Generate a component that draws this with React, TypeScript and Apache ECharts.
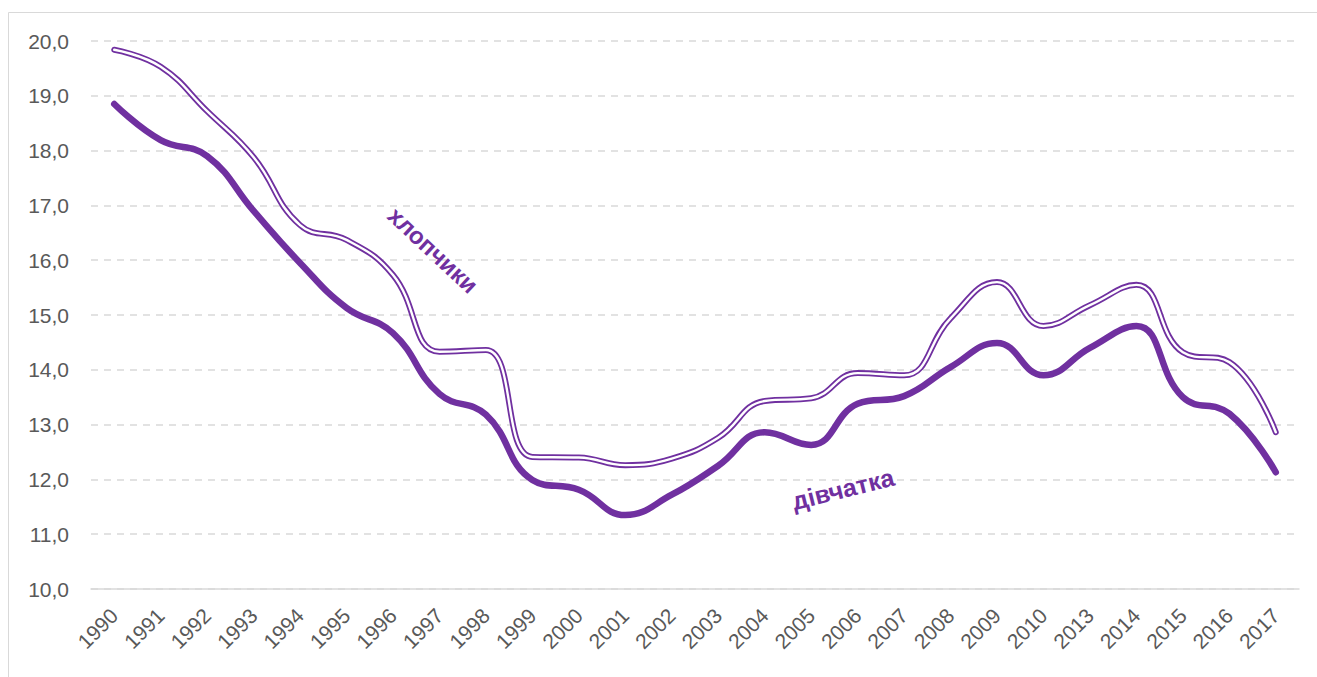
import React, { useEffect, useRef } from "react";
import * as echarts from "echarts";

const categories = [
  "1990", "1991", "1992", "1993", "1994", "1995", "1996", "1997", "1998", "1999",
  "2000", "2001", "2002", "2003", "2004", "2005", "2006", "2007", "2008", "2009",
  "2010", "2013", "2014", "2015", "2016", "2017",
];
const boys = [
  19.84, 19.53, 18.72, 17.88, 16.64, 16.37, 15.73, 14.33, 14.36, 12.41,
  12.4, 12.26, 12.38, 12.76, 13.43, 13.48, 13.94, 13.9, 14.94, 15.6,
  14.8, 15.18, 15.55, 14.32, 14.14, 12.86,
];
const girls = [
  18.85, 18.19, 17.9, 16.9, 15.95, 15.13, 14.67, 13.56, 13.18, 11.99,
  11.81, 11.35, 11.72, 12.25, 12.86, 12.63, 13.38, 13.52, 14.05, 14.49,
  13.9, 14.4, 14.8, 13.5, 13.2, 12.13,
];
const boysLabel = "хлопчики";
const girlsLabel = "дівчатка";

const PURPLE = "#7030A0";
const FONT = "Liberation Sans";

export default function App() {
  const ref = useRef<HTMLDivElement>(null);
  useEffect(() => {
    if (!ref.current) return;
    const chart = echarts.init(ref.current, null, { renderer: "svg" });
    chart.setOption({
      animation: false,
      backgroundColor: "#ffffff",
      grid: { left: 91, right: 18, top: 41, bottom: 88, containLabel: false },
      xAxis: {
        type: "category",
        data: categories,
        boundaryGap: true,
        axisLine: { show: true, lineStyle: { color: "#d9d9d9", width: 1.5 } },
        axisTick: { show: false },
        axisLabel: {
          interval: 0,
          rotate: 45,
          margin: 23,
          fontSize: 21,
          fontFamily: FONT,
          color: "#595959",
        },
      },
      yAxis: {
        type: "value",
        min: 10,
        max: 20,
        interval: 1,
        axisLine: { show: false },
        axisTick: { show: false },
        axisLabel: {
          margin: 22,
          fontSize: 21,
          fontFamily: FONT,
          color: "#595959",
          formatter: (v: number) => v.toFixed(1).replace(".", ","),
        },
        splitLine: {
          show: true,
          lineStyle: { color: "#d9d9d9", width: 1.5, type: [7, 6] },
        },
      },
      series: [
        {
          name: "boys-outer",
          type: "line",
          data: boys,
          smooth: 0.45,
          symbol: "none",
          lineStyle: { color: PURPLE, width: 6, cap: "round", join: "round" },
          z: 2,
        },
        {
          name: "boys-inner",
          type: "line",
          data: boys,
          smooth: 0.45,
          symbol: "none",
          lineStyle: { color: "#ffffff", width: 2.4, cap: "round", join: "round" },
          z: 3,
        },
        {
          name: "girls",
          type: "line",
          data: girls,
          smooth: 0.45,
          symbol: "none",
          lineStyle: { color: PURPLE, width: 6.5, cap: "round", join: "round" },
          z: 4,
        },
      ],
      graphic: [
        {
          type: "rect",
          shape: { x: 8.5, y: 12.5, width: 1330, height: 700 },
          style: { fill: "none", stroke: "#d9d9d9", lineWidth: 1 },
          silent: true,
          z: -1,
        },
        {
          type: "text",
          x: 433,
          y: 250,
          rotation: (-43 * Math.PI) / 180,
          style: {
            text: boysLabel,
            fill: PURPLE,
            font: `bold 24px "${FONT}"`,
            align: "center",
            verticalAlign: "middle",
          },
          z: 10,
        },
        {
          type: "text",
          x: 843,
          y: 489,
          rotation: (14 * Math.PI) / 180,
          style: {
            text: girlsLabel,
            fill: PURPLE,
            font: `bold 25px "${FONT}"`,
            align: "center",
            verticalAlign: "middle",
          },
          z: 10,
        },
      ],
    });
    return () => chart.dispose();
  }, []);
  return (
    <div
      ref={ref}
      style={{ position: "fixed", left: 0, top: 0, width: 1317, height: 677 }}
    />
  );
}
